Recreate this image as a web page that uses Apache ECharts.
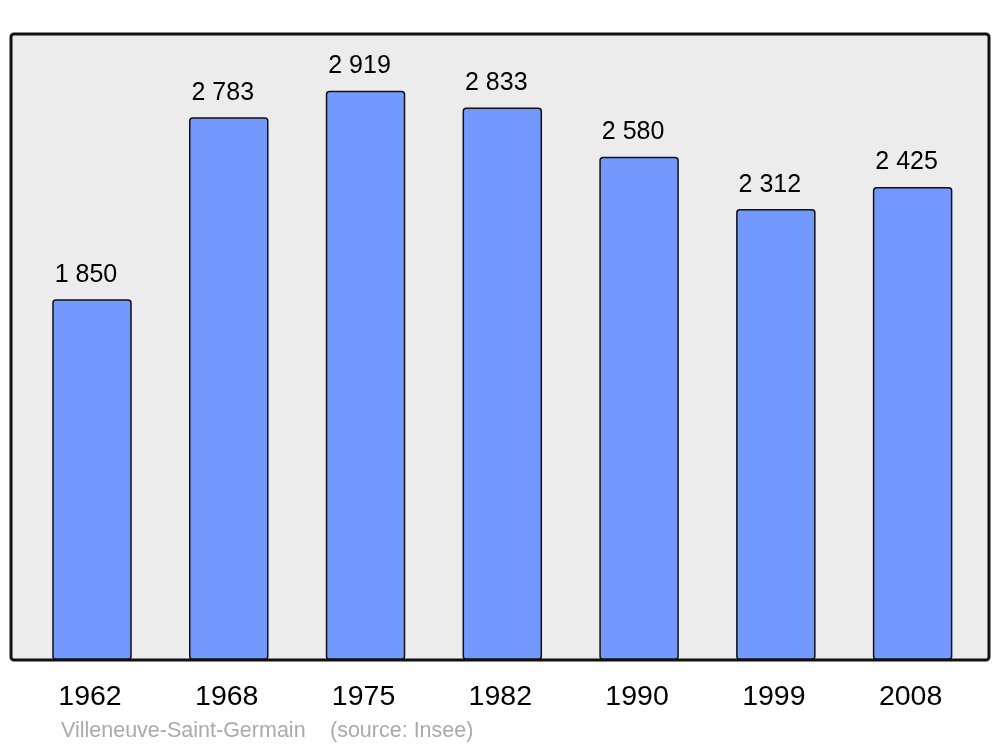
<!DOCTYPE html>
<html><head><meta charset="utf-8">
<script src="https://cdn.jsdelivr.net/npm/echarts@6/dist/echarts.min.js"></script>
<style>html,body{margin:0;padding:0;background:#fff}#c{width:1000px;height:747px}</style>
</head><body><div id="c"></div>
<script>
const years = ['1962','1968','1975','1982','1990','1999','2008'];
const population = [1850, 2783, 2919, 2833, 2580, 2312, 2425];
const placeText = 'Villeneuve-Saint-Germain';
const sourceText = '(source: Insee)';

const fmt = v => String(v).replace(/\B(?=(\d{3})+(?!\d))/g, ' ');
const FONT = 'Liberation Sans, Arial, sans-serif';
const chart = echarts.init(document.getElementById('c'));
chart.setOption({
  animation: false,
  backgroundColor: '#fff',
  textStyle: {fontFamily: FONT},
  graphic: [
    {type: 'rect', z: -10, shape: {x: 11, y: 34, width: 978, height: 626, r: 3},
     style: {fill: '#ececec', stroke: 'none'}},
    {type: 'rect', z: 100, shape: {x: 11, y: 34, width: 978, height: 626, r: 3},
     style: {fill: 'none', stroke: '#111', lineWidth: 3}},
    {type: 'text', left: 61, top: 720, z: 100,
     style: {text: placeText, fill: '#aaaaaa', font: '21.5px ' + FONT}},
    {type: 'text', left: 330, top: 720, z: 100,
     style: {text: sourceText, fill: '#aaaaaa', font: '21.5px ' + FONT}}
  ],
  grid: {left: 23.6, right: 19, top: 34, bottom: 87, containLabel: false},
  xAxis: {
    type: 'category', data: years,
    axisLine: {show: false}, axisTick: {show: false},
    axisLabel: {fontSize: 28.5, color: '#000', margin: 23, padding: [0, 4, 0, 0]}
  },
  yAxis: {
    type: 'value', min: 0, max: 3210,
    show: false, splitLine: {show: false}
  },
  series: [{
    type: 'bar', data: population, barWidth: 79.5,
    itemStyle: {color: '#7399ff', borderColor: '#111', borderWidth: 1.5, borderRadius: 3},
    label: {show: true, position: 'top', distance: 12, fontSize: 25, color: '#000',
            offset: [-6, 0], formatter: p => fmt(p.value)}
  }]
});
</script></body></html>
